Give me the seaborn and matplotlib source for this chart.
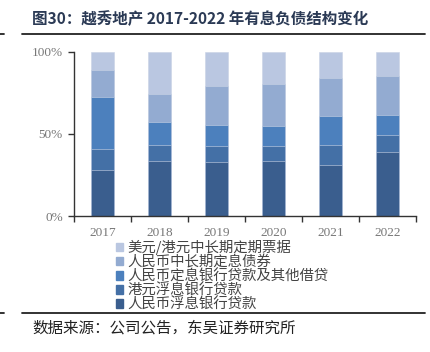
import matplotlib
matplotlib.use("Agg")
import matplotlib.pyplot as plt
import matplotlib.patches as mpatches
import numpy as np
import pandas as pd
import seaborn as sns

# Data (shares of interest-bearing debt, %)
years = ["2017", "2018", "2019", "2020", "2021", "2022"]
rmb_float_loans = [27.9, 33.3, 32.9, 33.5, 31.1, 39.0]
hkd_float_loans = [12.9, 9.9, 9.5, 9.1, 12.1, 10.1]
rmb_fixed_loans = [31.7, 13.8, 13.1, 12.5, 18.0, 12.7]
rmb_bonds = [16.6, 17.5, 23.4, 25.4, 23.0, 23.2]
usd_hkd_notes = [10.9, 25.5, 21.1, 19.5, 15.8, 15.0]

series_names = [
    "人民币浮息银行贷款",
    "港元浮息银行贷款",
    "人民币定息银行贷款及其他借贷",
    "人民币中长期定息债券",
    "美元/港元中长期定期票据",
]
colors = ["#3A5E8E", "#4470A6", "#4C80BD", "#93ABD1", "#BAC7E1"]

sns.set_theme(style="white")
plt.rcParams["font.family"] = ["Noto Sans CJK SC", "DejaVu Sans"]

series = [rmb_float_loans, hkd_float_loans, rmb_fixed_loans, rmb_bonds, usd_hkd_notes]
df = pd.DataFrame({"year": years})
cum = np.zeros(len(years))
for name, vals in zip(series_names, series):
    cum = cum + np.array(vals)
    df[name] = cum
totals = df[series_names[-1]].values
for name in series_names:
    df[name] = df[name] / totals

fig = plt.figure(figsize=(4.31, 3.52), dpi=100)
ax = fig.add_axes([0.1717, 0.386, 0.7933, 0.467])

# stacked bars drawn as overlapping cumulative sums, tallest first
for name, c in reversed(list(zip(series_names, colors))):
    sns.barplot(data=df, x="year", y=name, color=c, width=0.4, ax=ax,
                saturation=1, edgecolor="#C9D3E6", linewidth=0.4)

ax.set_ylim(0, 1)
ax.set_xlim(-0.5, len(years) - 0.5)
ax.set_xlabel("")
ax.set_ylabel("")
ax.set_yticks([0, 0.5, 1.0])
ax.set_yticklabels(["0%", "50%", "100%"])
for s in ["top", "right"]:
    ax.spines[s].set_visible(False)
for s in ["left", "bottom"]:
    ax.spines[s].set_color("#333333")
    ax.spines[s].set_linewidth(1.0)

ax.tick_params(axis="y", which="major", direction="out", length=4, width=1,
               color="#333333", labelcolor="#777777", labelsize=9.5, left=True, pad=4)
ax.tick_params(axis="x", which="major", length=0, labelcolor="#777777",
               labelsize=9.5, pad=8)
ax.set_xticks(np.arange(-0.5, len(years), 1.0), minor=True)
ax.tick_params(axis="x", which="minor", direction="out", length=4, width=1,
               color="#333333", bottom=True)
for lab in ax.get_xticklabels() + ax.get_yticklabels():
    lab.set_family("Liberation Serif")

handles = [mpatches.Patch(color=c, label=n) for n, c in zip(series_names, colors)][::-1]
leg = fig.legend(handles=handles, loc="upper left", bbox_to_anchor=(0.268, 0.318),
                 frameon=False, fontsize=10.4, handlelength=0.55, handleheight=0.55,
                 handletextpad=0.25, labelspacing=0.0, borderaxespad=0,
                 borderpad=0)
for t in leg.get_texts():
    t.set_color("#444444")

# title and source
fig.text(0.074, 0.945, "图30：越秀地产 2017-2022 年有息负债结构变化",
         fontsize=11.2, fontweight="bold", color="#2B3A55", va="center")
fig.add_artist(plt.Line2D([0.051, 0.986], [0.903, 0.903], color="#222222", lw=1.3))
fig.add_artist(plt.Line2D([0.0, 0.01], [0.903, 0.903], color="#222222", lw=1.3))
fig.add_artist(plt.Line2D([0.051, 0.986], [0.111, 0.111], color="#222222", lw=1.3))
fig.add_artist(plt.Line2D([0.0, 0.01], [0.111, 0.111], color="#222222", lw=1.3))
fig.text(0.074, 0.068, "数据来源：公司公告，东吴证券研究所",
         fontsize=11.2, color="#222222", va="center")

fig.savefig("out.png", dpi=100)
